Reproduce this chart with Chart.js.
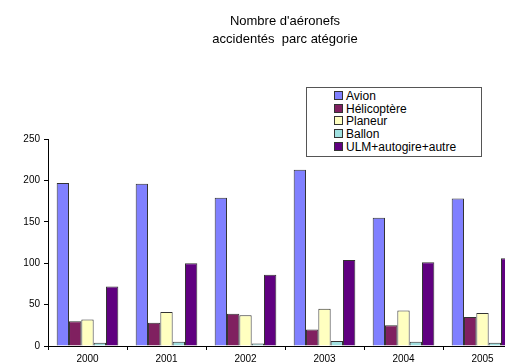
<!DOCTYPE html>
<html>
<head>
<meta charset="utf-8">
<script src="https://cdn.jsdelivr.net/npm/chart.js@4/dist/chart.umd.min.js"></script>
<style>
  html, body { margin: 0; padding: 0; background: #fff; overflow: hidden; width: 505px; height: 364px; }
  #wrap { position: relative; width: 530px; height: 364px; }
  #title {
    position: absolute; left: 165px; width: 240px; top: 12px;
    text-align: center; font: 13px "Liberation Sans", Arial, sans-serif; line-height: 18px; color: #000;
  }
  #legend {
    position: absolute; left: 306px; top: 87px; width: 174px; height: 68px;
    border: 1px solid #555; background: #fff;
    font: 12px "Liberation Sans", Arial, sans-serif; color: #000;
  }
  #legend .item { position: absolute; left: 27px; height: 13px; line-height: 13px; white-space: nowrap; }
  #legend .sw { display: inline-block; width: 7px; height: 7px; border: 1px solid #333; margin-right: 3px; vertical-align: 0px; }
  canvas { position: absolute; left: 0; top: 0; }
</style>
</head>
<body>
<div id="wrap">
  <canvas id="chart" width="530" height="364"></canvas>
  <div id="title">Nombre d'aéronefs<br>accidentés&nbsp; parc atégorie</div>
  <div id="legend"></div>
</div>
<script>
const years = ['2000', '2001', '2002', '2003', '2004', '2005'];
const seriesNames = ['Avion', 'Hélicoptère', 'Planeur', 'Ballon', 'ULM+autogire+autre'];
const avion = [197, 196, 179, 213, 155, 178];
const helicoptere = [30, 28, 39, 20, 25, 35];
const planeur = [32, 41, 37, 45, 43, 40];
const ballon = [4, 5, 3, 6, 5, 4];
const ulm = [72, 100, 86, 104, 101, 106];
const yTicks = [0, 50, 100, 150, 200, 250];

const colors = ['#8080FF', '#802060', '#FFFFC0', '#A0E0E0', '#600080'];
const values = [avion, helicoptere, planeur, ballon, ulm];

// legende HTML dans la boite
const legend = document.getElementById('legend');
seriesNames.forEach((name, i) => {
  const row = document.createElement('div');
  row.className = 'item';
  row.style.top = (2 + i * 12.7) + 'px';
  row.innerHTML = '<span class="sw" style="background:' + colors[i] + '"></span>' + name;
  legend.appendChild(row);
});

const font = { family: '"Liberation Sans", Arial, sans-serif', size: 10 };

new Chart(document.getElementById('chart').getContext('2d'), {
  type: 'bar',
  data: {
    labels: years,
    datasets: seriesNames.map((name, i) => ({
      label: name,
      data: values[i],
      backgroundColor: colors[i],
      borderColor: '#333',
      borderWidth: 1,
      categoryPercentage: 0.78,
      barPercentage: 1
    }))
  },
  options: {
    responsive: false,
    animation: false,
    layout: { padding: { top: 139, right: 8, left: 0, bottom: 0 } },
    plugins: { legend: { display: false }, title: { display: false }, tooltip: { enabled: false } },
    scales: {
      x: {
        grid: { drawOnChartArea: false, drawTicks: true, tickLength: 4, color: '#000', offset: true },
        border: { display: true, color: '#000' },
        ticks: { color: '#000', font: font, padding: 3, maxRotation: 0 },
        afterFit: s => { s.height = 18; }
      },
      y: {
        min: 0,
        max: 250,
        afterBuildTicks: s => { s.ticks = yTicks.map(v => ({ value: v })); },
        grid: { drawOnChartArea: false, drawTicks: true, tickLength: 4, color: '#000' },
        border: { display: true, color: '#000' },
        ticks: { color: '#000', font: font, padding: 4 },
        afterFit: s => { s.width = 48; }
      }
    }
  }
});
</script>
</body>
</html>
